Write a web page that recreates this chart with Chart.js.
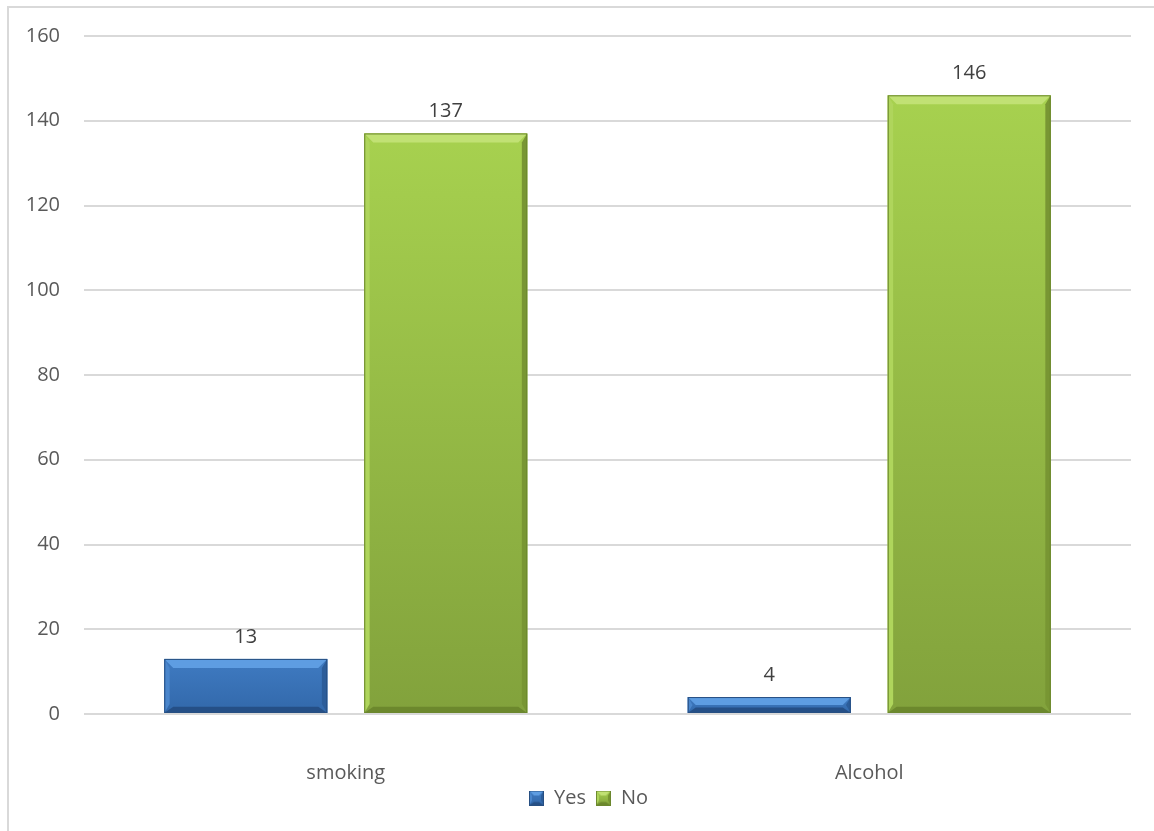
<!DOCTYPE html>
<html>
<head>
<meta charset="utf-8">
<title>Smoking and alcohol</title>
<script src="https://cdn.jsdelivr.net/npm/chart.js@4.4.3/dist/chart.umd.min.js"></script>
<style>
	html, body { margin: 0; padding: 0; background: #fff; overflow: hidden; }
	#wrap { position: relative; width: 1154px; height: 831px; }
	#frame {
		position: absolute; left: 7px; top: 6px; width: 1200px; height: 900px;
		border-left: 2px solid #d9d9d9; border-top: 2px solid #d9d9d9;
	}
	#chart { position: absolute; left: 0; top: 0; }
</style>
</head>
<body>
<div id="wrap">
	<div id="frame"></div>
	<canvas id="chart" width="1154" height="831"></canvas>
</div>
<script>
(function () {
	'use strict';

	var categories = ['smoking', 'Alcohol'];
	var yesValues  = [13, 4];
	var noValues   = [137, 146];
	var yTicks     = [0, 20, 40, 60, 80, 100, 120, 140, 160];

	var FONT = '"Open Sans", "Liberation Sans", sans-serif';
	var TEXT = '#595959';

	// Shades for the bevelled bars: top, left, face top, face bottom, right, bottom, edge.
	var shades = {
		Yes: { top: '#5e9de2', left: '#4a86cc', face0: '#3f7bc2', face1: '#3268aa', right: '#2c5d9a', bottom: '#254f86', edge: '#274f82' },
		No:  { top: '#c1e174', left: '#afd55c', face0: '#a7d14f', face1: '#82a23c', right: '#789633', bottom: '#6c882d', edge: '#6b872e' }
	};

	function poly(ctx, pts, fill) {
		ctx.beginPath();
		ctx.moveTo(pts[0], pts[1]);
		for (var i = 2; i < pts.length; i += 2) ctx.lineTo(pts[i], pts[i + 1]);
		ctx.closePath();
		ctx.fillStyle = fill;
		ctx.fill();
	}

	function drawBevel(ctx, L, T, R, B, s, bv) {
		var b = Math.min(bv, (B - T) / 2, (R - L) / 2);
		var g = ctx.createLinearGradient(0, T, 0, B);
		g.addColorStop(0, s.face0);
		g.addColorStop(1, s.face1);
		ctx.fillStyle = g;
		ctx.fillRect(L, T, R - L, B - T);
		poly(ctx, [L, T, R, T, R - b, T + b, L + b, T + b], s.top);
		poly(ctx, [L, T, L + b * 0.6, T + b, L + b * 0.6, B - b, L, B], s.left);
		poly(ctx, [R, T, R, B, R - b * 0.6, B - b, R - b * 0.6, T + b], s.right);
		poly(ctx, [L, B, R, B, R - b, B - b * 0.7, L + b, B - b * 0.7], s.bottom);
		ctx.strokeStyle = s.edge;
		ctx.lineWidth = 1;
		ctx.strokeRect(L + 0.5, T + 0.5, R - L - 1, B - T - 1);
	}

	// Repaints each bar with a bevelled face and writes its value above it.
	var bevelBars = {
		id: 'bevelBars',
		afterLayout: function (chart) {
			// centre the legend under the whole frame and tuck it up under the axis labels
			var lg = chart.legend;
			if (lg) {
				lg.left += 19;
				lg.right += 19;
				lg.top -= 7;
				lg.bottom -= 7;
			}
		},
		afterDatasetsDraw: function (chart) {
			var ctx = chart.ctx;
			chart.data.datasets.forEach(function (ds, di) {
				var meta = chart.getDatasetMeta(di);
				var s = shades[ds.label];
				meta.data.forEach(function (bar, i) {
					var p = bar.getProps(['x', 'y', 'base', 'width'], true);
					var L = p.x - p.width / 2, R = p.x + p.width / 2;
					ctx.save();
					drawBevel(ctx, L, p.y, R, p.base, s, 9);
					ctx.fillStyle = '#404040';
					ctx.font = '20px ' + FONT;
					ctx.textAlign = 'center';
					ctx.textBaseline = 'middle';
					ctx.fillText(String(ds.data[i]), p.x, p.y - 22);
					ctx.restore();
				});
			});
		}
	};

	function legendSwatch(s) {
		var c = document.createElement('canvas');
		c.width = 15; c.height = 15;
		drawBevel(c.getContext('2d'), 0, 0, 15, 15, s, 5);
		return c;
	}

	var swatches = { Yes: legendSwatch(shades.Yes), No: legendSwatch(shades.No) };

	new Chart(document.getElementById('chart'), {
		type: 'bar',
		data: {
			labels: categories,
			datasets: [
				{ label: 'Yes', data: yesValues, backgroundColor: '#3f7bc2' },
				{ label: 'No',  data: noValues,  backgroundColor: '#a7d14f' }
			]
		},
		options: {
			responsive: false,
			animation: false,
			events: [],
			datasets: { bar: { categoryPercentage: 0.764, barPercentage: 0.815 } },
			layout: { padding: { left: 8, right: 23, top: 25, bottom: 6 } },
			plugins: {
				tooltip: { enabled: false },
				legend: {
					position: 'bottom',
					labels: {
						color: TEXT,
						font: { family: FONT, size: 20 },
						usePointStyle: true,
						boxWidth: 15,
						boxHeight: 15,
						padding: 10,
						generateLabels: function (chart) {
							var items = Chart.defaults.plugins.legend.labels.generateLabels(chart);
							items.forEach(function (it) { it.pointStyle = swatches[it.text]; });
							return items;
						}
					}
				}
			},
			scales: {
				x: {
					grid: { display: false, drawTicks: false },
					border: { display: false },
					afterFit: function (scale) { scale.height = 71; },
					ticks: { color: TEXT, font: { family: FONT, size: 20 }, padding: 47 }
				},
				y: {
					min: 0,
					max: 160,
					afterBuildTicks: function (scale) {
						scale.ticks = yTicks.map(function (v) { return { value: v }; });
					},
					afterFit: function (scale) { scale.width = 76; },
					grid: { color: '#d9d9d9', lineWidth: 2, drawTicks: false },
					border: { display: false },
					ticks: { color: TEXT, font: { family: FONT, size: 20 }, padding: 24 }
				}
			}
		},
		plugins: [bevelBars]
	});
})();
</script>
</body>
</html>
